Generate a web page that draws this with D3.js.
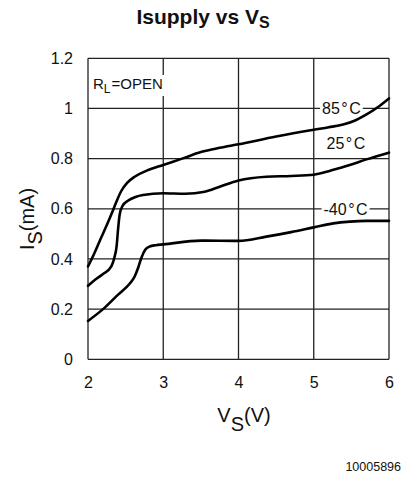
<!DOCTYPE html>
<html>
<head>
<meta charset="utf-8">
<script src="https://cdn.jsdelivr.net/npm/d3@7"></script>
<style>
  html, body { margin: 0; padding: 0; background: #fff; }
  svg { display: block; }
  text { font-family: "Liberation Sans", Arial, Helvetica, sans-serif; fill: #111; }
</style>
</head>
<body>
<svg id="chart" width="406" height="478"></svg>
<script>
// ---- data ----
const xTicks = [2, 3, 4, 5, 6];
const yTicks = [0, 0.2, 0.4, 0.6, 0.8, 1, 1.2];
const yTickLabels = ["0", "0.2", "0.4", "0.6", "0.8", "1", "1.2"];

const vs85 = [2.0, 2.08, 2.16, 2.25, 2.32, 2.38, 2.44, 2.52, 2.62, 2.78, 3.0, 3.25, 3.5, 3.75, 4.0, 4.5, 5.0, 5.2, 5.39, 5.55, 5.69, 5.85, 6.0];
const is85 = [0.37, 0.42, 0.475, 0.535, 0.585, 0.63, 0.67, 0.703, 0.728, 0.752, 0.775, 0.8, 0.826, 0.843, 0.857, 0.888, 0.915, 0.925, 0.936, 0.952, 0.974, 1.005, 1.04];

const vs25 = [2.0, 2.09, 2.2, 2.31, 2.35, 2.38, 2.40, 2.42, 2.46, 2.53, 2.63, 2.73, 3.0, 3.29, 3.55, 3.75, 4.0, 4.37, 4.7, 5.0, 5.2, 5.35, 5.5, 5.7, 6.0];
const is25 = [0.293, 0.316, 0.34, 0.37, 0.405, 0.45, 0.52, 0.575, 0.612, 0.632, 0.647, 0.655, 0.662, 0.66, 0.668, 0.688, 0.713, 0.728, 0.731, 0.736, 0.75, 0.763, 0.777, 0.797, 0.824];

const vsM40 = [2.0, 2.2, 2.4, 2.55, 2.62, 2.67, 2.71, 2.76, 2.82, 2.9, 3.0, 3.5, 4.0, 4.37, 4.7, 5.0, 5.26, 5.48, 5.7, 6.0];
const isM40 = [0.153, 0.2, 0.258, 0.3, 0.33, 0.368, 0.405, 0.437, 0.45, 0.455, 0.458, 0.473, 0.472, 0.489, 0.507, 0.526, 0.542, 0.549, 0.552, 0.552];

const curveLabels = ["85", "25", "-40"];
const labelAnchorV = [5.11, 5.17, 5.13];
const labelAnchorI = [1.0, 0.86, 0.6];

const title = "Isupply vs V";
const titleSub = "S";
const footnote = "10005896";

// ---- layout ----
const svg = d3.select("#chart");
const plot = { left: 88, right: 389, top: 58.3, bottom: 359.3 };

const x = d3.scaleLinear().domain([2, 6]).range([plot.left, plot.right]);
const y = d3.scaleLinear().domain([0, 1.2]).range([plot.bottom, plot.top]);

const gridColor = "#222";

// grid
const g = svg.append("g");
g.selectAll("line.vg").data(xTicks).join("line")
  .attr("x1", d => x(d)).attr("x2", d => x(d))
  .attr("y1", y(0)).attr("y2", y(1.2))
  .attr("stroke", gridColor).attr("stroke-width", 1.3);
g.selectAll("line.hg").data(yTicks).join("line")
  .attr("x1", x(2)).attr("x2", x(6))
  .attr("y1", d => y(d)).attr("y2", d => y(d))
  .attr("stroke", gridColor).attr("stroke-width", 1.3);

// axes tick labels via d3 axes (no lines)
const xAxis = d3.axisBottom(x).tickValues(xTicks).tickFormat(d3.format("d")).tickSize(0).tickPadding(17);
const yAxis = d3.axisLeft(y).tickValues(yTicks).tickFormat((d, i) => yTickLabels[i]).tickSize(0).tickPadding(15);

const gx = svg.append("g").attr("transform", `translate(0,${plot.bottom})`).call(xAxis);
const gy = svg.append("g").attr("transform", `translate(${plot.left},0)`).call(yAxis);
[gx, gy].forEach(a => {
  a.select(".domain").remove();
  a.selectAll("text").attr("font-size", 16).attr("font-family", '"Liberation Sans", Arial, sans-serif').attr("fill", "#111");
});

// curves
const line = d3.line().x(d => x(d[0])).y(d => y(d[1])).curve(d3.curveMonotoneX);
const series = [
  d3.zip(vs85, is85),
  d3.zip(vs25, is25),
  d3.zip(vsM40, isM40)
];
svg.append("g").selectAll("path").data(series).join("path")
  .attr("d", line)
  .attr("fill", "none")
  .attr("stroke", "#000")
  .attr("stroke-width", 2.6)
  .attr("stroke-linejoin", "round")
  .attr("stroke-linecap", "round");

// curve labels
const lbl = svg.append("g");
curveLabels.forEach((t, i) => {
  const gg = lbl.append("g");
  const tx = gg.append("text")
    .attr("x", x(labelAnchorV[i]))
    .attr("y", y(labelAnchorI[i]))
    .attr("dy", "0.36em")
    .attr("font-size", 16);
  tx.append("tspan").text(t);
  tx.append("tspan").attr("dx", 1.5).text("°");
  tx.append("tspan").attr("dx", 1.5).text("C");
  if (i !== 1) {
    const bb = tx.node().getBBox();
    gg.insert("rect", "text")
      .attr("x", bb.x - 2).attr("y", bb.y + 3)
      .attr("width", bb.width + 4).attr("height", bb.height - 6)
      .attr("fill", "#fff");
  }
});

// RL=OPEN note
const noteG = svg.append("g");
const note = noteG.append("text")
  .attr("x", plot.left + 5).attr("y", 89)
  .attr("font-size", 15);
note.append("tspan").text("R");
note.append("tspan").attr("dy", 4).attr("font-size", 12).text("L");
note.append("tspan").attr("dy", -4).attr("dx", 1).text("=OPEN");
const nb = note.node().getBBox();
noteG.insert("rect", "text")
  .attr("x", nb.x - 2).attr("y", nb.y)
  .attr("width", nb.width + 4).attr("height", nb.height)
  .attr("fill", "#fff");

// title
const tt = svg.append("text")
  .attr("x", 203).attr("y", 24)
  .attr("text-anchor", "middle")
  .attr("font-size", 21).attr("font-weight", "bold");
tt.append("tspan").text(title);
tt.append("tspan").attr("dy", 4).attr("font-size", 16).text(titleSub);

// x axis label
const xl = svg.append("text")
  .attr("x", 244).attr("y", 422)
  .attr("text-anchor", "middle")
  .attr("font-size", 20);
xl.append("tspan").text("V");
xl.append("tspan").attr("dy", 9).text("S");
xl.append("tspan").attr("dy", -9).text("(V)");

// y axis label
const yl = svg.append("text")
  .attr("transform", "translate(34,219) rotate(-90)")
  .attr("text-anchor", "middle")
  .attr("font-size", 20);
yl.append("tspan").text("I");
yl.append("tspan").attr("dy", 8).text("S");
yl.append("tspan").attr("dy", -8).text("(mA)");

// footnote
svg.append("text")
  .attr("x", 401).attr("y", 471)
  .attr("text-anchor", "end")
  .attr("font-size", 12.5)
  .text(footnote);
</script>
</body>
</html>
